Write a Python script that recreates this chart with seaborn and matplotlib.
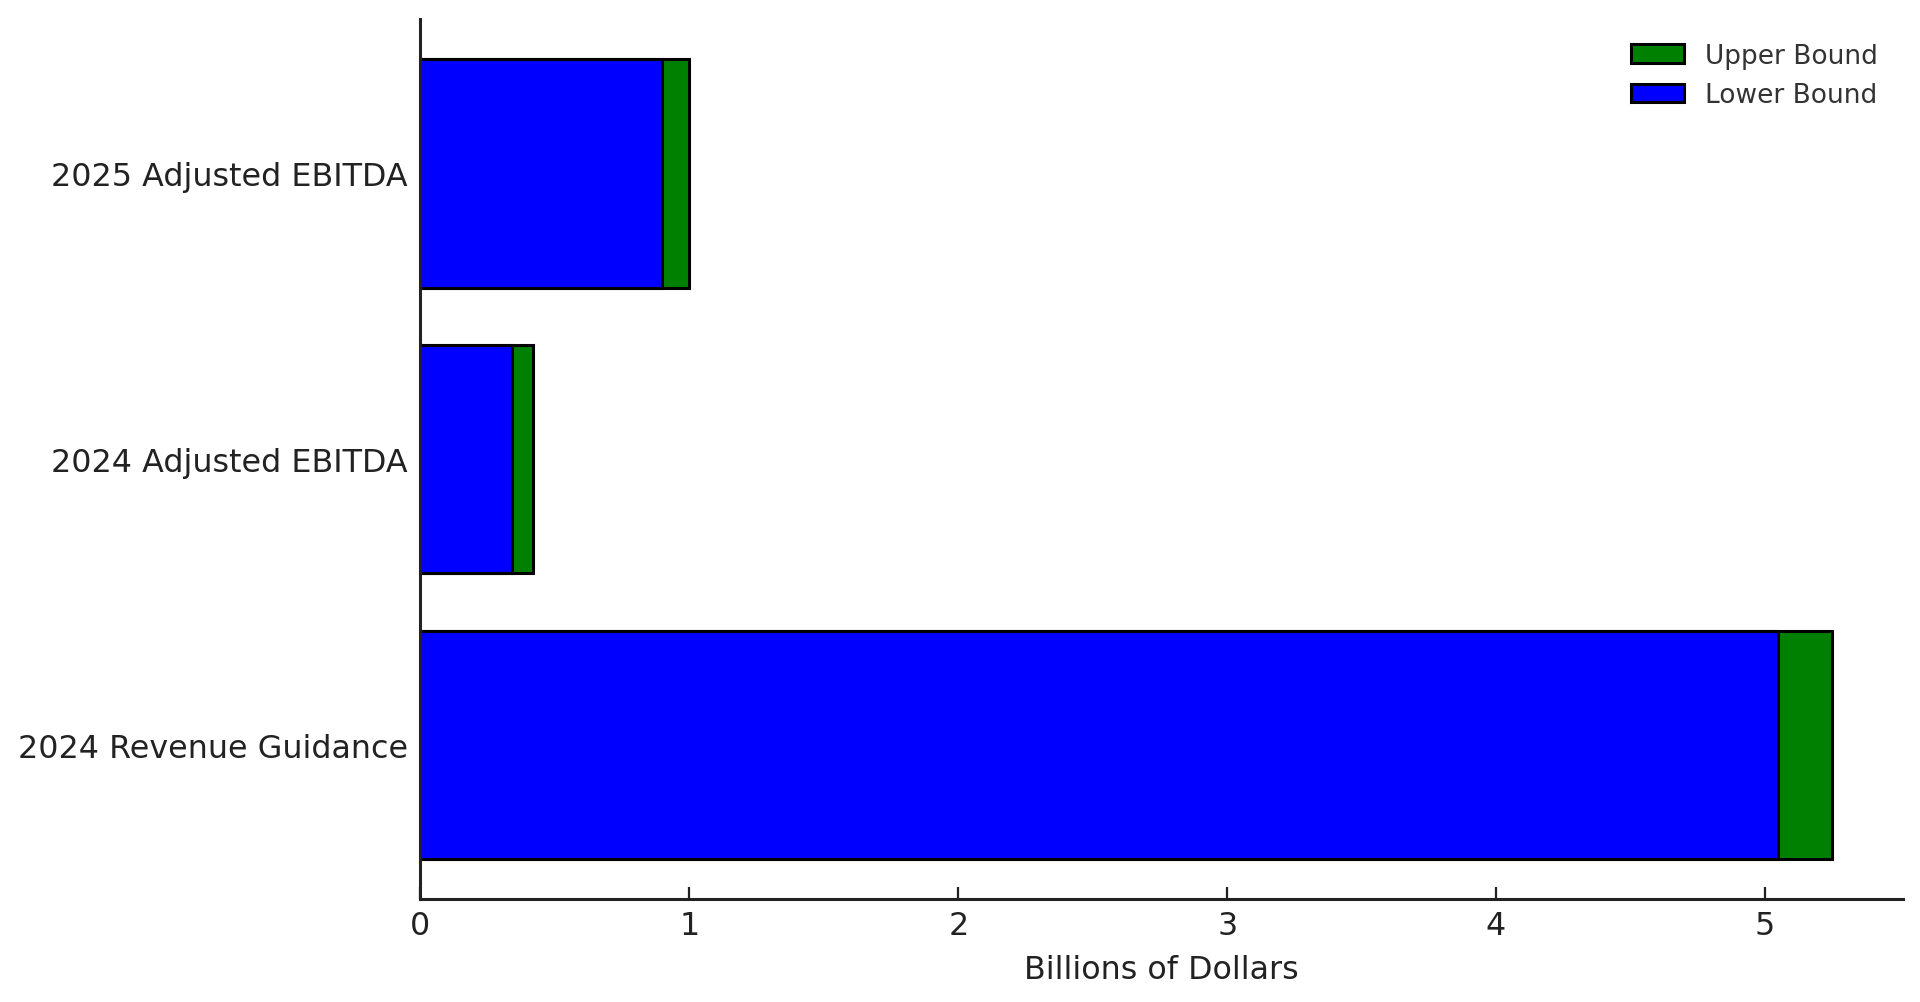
import matplotlib
matplotlib.use("Agg")
import matplotlib.pyplot as plt
import seaborn as sns
import pandas as pd

# Data
categories = ["2025 Adjusted EBITDA", "2024 Adjusted EBITDA", "2024 Revenue Guidance"]
upper_bound = [1.0, 0.42, 5.25]
lower_bound = [0.90, 0.34, 5.05]

df = pd.DataFrame({"metric": categories, "upper": upper_bound, "lower": lower_bound})

sns.set_style("ticks")
plt.rcParams["font.family"] = ["DejaVu Sans"]

fig = plt.figure(figsize=(19.2, 10.03), dpi=100)
ax = fig.add_axes([0.219, 0.1025, 0.772, 0.8775])

sns.barplot(data=df, y="metric", x="upper", order=categories, color="green",
            saturation=1, edgecolor="black", linewidth=2.2, width=0.8,
            label="Upper Bound", ax=ax)
sns.barplot(data=df, y="metric", x="lower", order=categories, color="blue",
            saturation=1, edgecolor="black", linewidth=2.2, width=0.8,
            label="Lower Bound", ax=ax)

n = len(categories)
ax.set_ylim(n - 1 + 0.4 + 0.14, -0.4 - 0.14)
ax.set_xlim(0, max(upper_bound) * 1.05)

ax.set_xlabel("Billions of Dollars", fontsize=22.9, color="#222222", labelpad=9)
ax.set_ylabel("")
ax.tick_params(axis="both", direction="in", length=9, width=1.6,
               labelsize=22.9, labelcolor="#222222", color="#222222")
ax.tick_params(axis="x", pad=8)
ax.tick_params(axis="y", pad=9)

sns.despine(ax=ax)
for s in ("left", "bottom"):
    ax.spines[s].set_linewidth(2.2)
    ax.spines[s].set_color("#222222")

leg = ax.legend(loc="upper right", frameon=False, fontsize=19,
                bbox_to_anchor=(0.999, 1.0))
for t in leg.get_texts():
    t.set_color("#333333")

fig.savefig("out.png", dpi=100)
